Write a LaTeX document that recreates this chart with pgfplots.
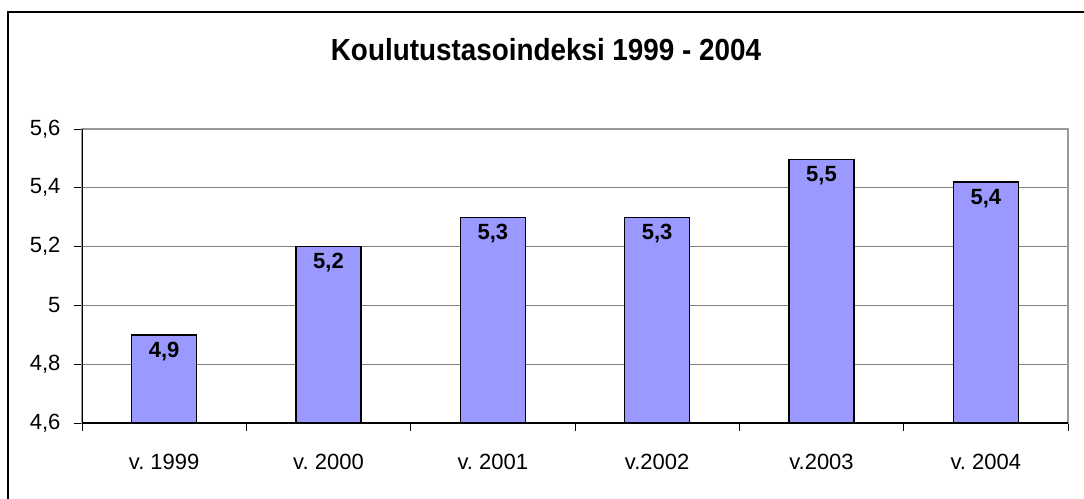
\documentclass[border=0pt]{standalone}
\usepackage{fontspec}
\setmainfont{Liberation Sans}
\usepackage{graphicx}
\usepackage{pgfplots}
\pgfplotsset{compat=1.18}
\definecolor{barblue}{HTML}{9999FF}
\begin{document}
\frenchspacing
\begin{tikzpicture}[x=1pt,y=1pt]
\path[use as bounding box] (0,0) rectangle (1084,-498);
\clip (0,0) rectangle (1084,-498);
\draw[line width=1.3pt] (8,-12) rectangle (1100,-520);
\node[anchor=base, inner sep=0pt, font=\fontsize{30.5}{34}\selectfont\bfseries] at (546,-60) {\scalebox{0.913}[1]{Koulutustasoindeksi 1999 - 2004}};
\begin{axis}[
  at={(82pt,-423pt)}, anchor=south west,
  scale only axis, width=986pt, height=294pt,
  xmin=-0.5, xmax=5.5, ymin=4.6, ymax=5.6,
  ytick={4.6,4.8,5,5.2,5.4,5.6},
  xtick={-0.5,0.5,1.5,2.5,3.5,4.5,5.5},
  x tick label as interval,
  xticklabels={v. 1999,v. 2000,v. 2001,v.2002,v.2003,v. 2004},
  tick align=outside, major tick length=8pt,
  xtick pos=bottom, ytick pos=left,
  ymajorgrids, grid style={draw=black!50, line width=0.9pt},
  axis line style={draw=black!40, line width=1.2pt},
  tick style={black, line width=0.9pt},
  ticklabel style={font=\fontsize{22}{26}\selectfont},
  xticklabel style={yshift=-20pt},
  yticklabel style={xshift=-10pt},
  /pgf/number format/use comma, /pgf/number format/fixed,
  /pgf/number format/precision=1, /pgf/number format/assume math mode=true,
  ybar, bar width=65pt,
  nodes near coords,
  every node near coord/.append style={anchor=north, font=\fontsize{22}{26}\selectfont\bfseries, yshift=-3pt},
]
\addplot[fill=barblue, draw=black, line width=1.4pt] coordinates {(0,4.9) (1,5.2) (2,5.3) (3,5.3) (4,5.497) (5,5.42)};
\draw[black, line width=1.2pt] (rel axis cs:0,0) -- (rel axis cs:0,1);
\draw[black, line width=1.2pt] (rel axis cs:0,0) -- (rel axis cs:1,0);
\end{axis}
\end{tikzpicture}
\end{document}
